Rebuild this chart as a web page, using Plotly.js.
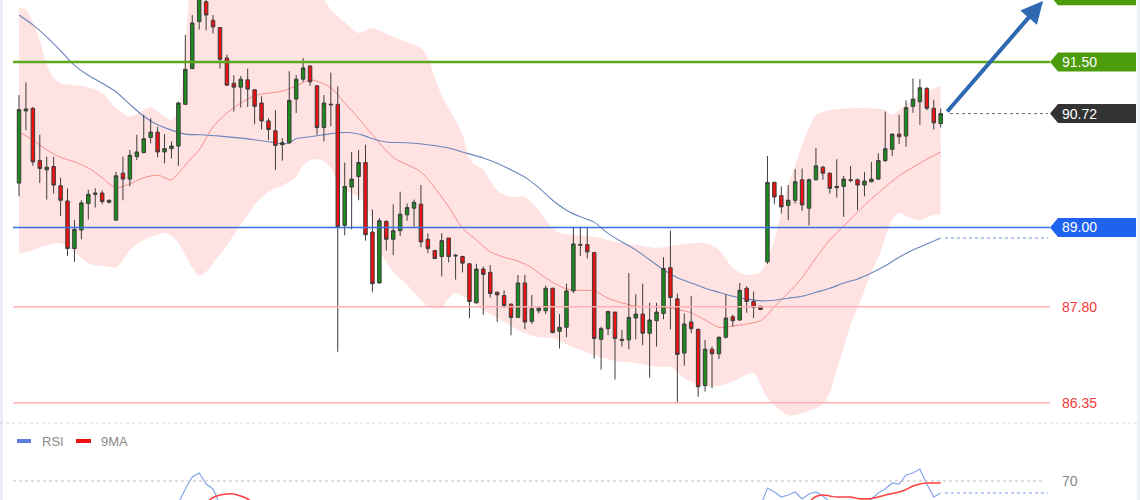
<!DOCTYPE html>
<html><head><meta charset="utf-8">
<script src="https://cdn.plot.ly/plotly-3.0.1.min.js"></script>
<style>html,body{margin:0;padding:0;background:#fff;}#chart{width:1140px;height:500px;}</style>
</head><body><div id="chart"></div>
<script>
// ---------- candle data ----------
const open = [89.67,90.76,90.80,90.01,89.87,89.92,89.63,89.40,88.68,88.96,89.36,89.50,89.52,89.38,89.11,89.82,89.73,90.07,90.13,90.36,90.44,90.14,90.19,90.23,90.86,91.40,92.11,92.41,92.13,92.02,91.56,91.18,91.12,91.23,91.08,90.88,90.61,90.46,90.25,90.28,90.94,91.24,91.44,91.14,90.51,90.85,90.86,89.03,89.61,89.77,89.98,88.93,88.16,89.09,88.82,88.95,89.19,89.29,89.35,88.82,88.65,88.56,88.84,88.58,88.56,88.45,87.86,88.37,88.32,88.02,87.97,87.84,87.64,88.16,87.58,87.74,87.74,88.08,87.43,87.49,88.04,88.73,88.74,88.62,87.31,87.47,87.72,87.31,87.30,87.63,87.69,87.40,87.59,87.70,88.39,87.92,87.10,87.57,87.46,86.61,87.16,87.09,87.34,87.65,87.60,88.08,87.88,87.81,88.48,89.68,89.48,89.33,89.41,89.72,89.29,89.72,89.91,89.82,89.62,89.62,89.72,89.72,89.64,89.69,89.73,90.01,90.18,90.41,90.38,90.83,90.90,91.10,90.80,90.57];
const high = [91.00,91.19,90.82,90.40,90.07,90.07,89.75,89.59,89.11,89.41,89.57,89.59,89.56,89.42,89.84,90.07,90.17,90.40,90.70,90.65,90.52,90.41,90.30,90.90,91.91,92.21,92.60,92.50,92.21,92.03,91.61,91.30,91.29,91.40,91.09,90.98,90.65,90.77,90.35,91.36,91.30,91.56,91.45,91.15,91.00,91.34,91.13,89.98,90.14,90.17,90.25,89.27,89.14,89.11,89.35,89.54,89.36,89.42,89.64,88.91,88.66,88.91,88.84,88.60,88.57,88.46,88.45,88.41,88.43,88.03,88.05,87.85,88.28,88.28,87.98,87.79,88.12,88.09,87.69,88.15,89.01,89.01,88.99,88.63,87.50,87.74,87.72,87.45,88.31,87.99,88.15,87.86,87.86,88.55,88.95,88.00,87.70,87.96,87.47,87.30,87.20,87.35,87.99,87.68,88.16,88.11,88.03,87.81,90.08,89.69,89.62,89.64,89.88,89.89,89.74,90.20,89.93,89.83,90.03,89.78,89.93,89.74,89.84,89.99,90.12,90.75,90.42,90.70,90.92,91.25,91.24,91.12,90.93,90.80];
const low = [89.47,90.47,89.93,89.67,89.42,89.51,89.17,88.57,88.48,88.82,89.12,89.30,89.35,89.36,89.10,89.41,89.62,90.02,90.12,90.27,90.06,89.97,90.04,89.93,90.85,91.39,91.99,91.98,91.93,91.40,91.14,90.75,90.81,90.82,90.56,90.48,90.32,89.87,90.01,90.26,90.73,91.20,91.14,90.40,90.30,90.53,87.12,88.88,88.97,89.41,88.80,88.02,88.15,88.65,88.58,88.87,89.10,89.01,88.70,88.61,88.52,88.26,88.47,88.21,88.32,87.63,87.85,87.68,87.94,87.57,87.78,87.37,87.63,87.46,87.54,87.70,87.69,87.40,87.17,87.34,88.01,88.57,88.53,87.02,86.85,87.37,86.70,87.20,87.16,87.31,87.22,86.73,87.20,87.61,87.46,86.34,86.91,87.40,86.44,86.52,86.57,87.01,87.32,87.50,87.59,87.71,87.63,87.75,88.45,89.35,89.21,89.11,89.36,89.25,89.03,89.71,89.72,89.51,89.45,89.16,89.68,89.26,89.47,89.68,89.72,89.99,90.08,90.26,90.22,90.73,90.55,90.77,90.48,90.51];
const close = [90.78,90.79,89.99,89.89,89.91,89.64,89.41,88.68,88.97,89.37,89.50,89.52,89.39,89.41,89.78,89.73,90.09,90.14,90.34,90.44,90.14,90.19,90.23,90.88,91.39,92.09,92.47,92.21,92.03,91.54,91.15,91.12,91.24,91.09,90.83,90.61,90.48,90.24,90.28,90.92,91.24,91.41,91.20,90.51,90.88,90.86,89.01,89.62,89.73,89.98,88.89,88.15,89.10,88.82,88.95,89.20,89.30,89.38,88.78,88.68,88.53,88.80,88.56,88.57,88.46,87.88,88.37,88.29,88.00,87.98,87.82,87.64,88.16,87.57,87.77,87.78,88.08,87.41,87.49,88.04,88.75,88.74,88.63,87.32,87.47,87.73,87.32,87.29,87.64,87.69,87.40,87.60,87.72,88.38,87.94,87.08,87.54,87.47,86.59,87.16,87.09,87.34,87.63,87.59,88.05,87.88,87.79,87.76,89.68,89.46,89.31,89.41,89.69,89.34,89.72,89.93,89.82,89.59,89.60,89.73,89.71,89.64,89.70,89.73,90.01,90.19,90.41,90.37,90.81,90.94,91.11,90.80,90.58,90.72];
const candleIdx = Array.from({length: open.length}, (_, k) => k + 1);

// ---------- Bollinger band (upper / lower) and moving averages ----------
const upperIdx = [1,2,3,4,5,6,7,9,11,13,15,17,19,20,22,23,24,25,26,28,32,36,40,43,45,46,48,50,52,55,58,59,60,61,62,63,64,65,66,67,68,70,72,74,76,78,79,81,84,88,91,93,95,98,100,102,104,106,108,109,110,111,112,113,114,115,116,118,121,124,126,127,128,130,132,134];
const upperVal = [92.32,92.29,92.10,91.83,91.45,91.26,91.18,91.15,91.12,91.03,90.80,90.68,90.77,90.82,90.67,90.62,90.77,91.75,92.75,93.2,93.4,93.3,93.0,92.7,92.44,92.29,92.10,91.94,92.01,91.88,91.76,91.71,91.56,91.26,91.00,90.80,90.62,90.40,90.05,89.93,89.87,89.56,89.46,89.46,89.26,88.99,88.92,88.89,88.86,88.76,88.72,88.69,88.72,88.76,88.76,88.66,88.39,88.28,88.33,88.51,88.81,89.23,89.64,89.94,90.25,90.50,90.70,90.77,90.80,90.80,90.77,90.70,90.77,90.93,91.05,91.14];
const lowerIdx = [1,3,5,7,9,11,13,15,16,17,19,21,22,23,24,25,26,27,28,29,31,33,35,37,39,41,42,43,44,45,46,47,48,50,51,52,53,54,55,57,59,60,62,63,64,66,68,70,72,74,76,78,81,84,87,90,93,95,97,99,101,103,105,107,108,109,110,112,114,116,117,118,119,120,121,122,123,124,125,126,127,128,129,131,133,134];
const lowerVal = [88.60,88.66,88.73,88.76,88.63,88.46,88.42,88.40,88.51,88.66,88.81,88.89,88.92,88.87,88.76,88.58,88.39,88.27,88.33,88.46,88.73,89.04,89.34,89.54,89.63,89.76,89.94,90.02,90.03,90.00,89.90,89.67,89.56,89.46,89.34,89.11,88.66,88.48,88.33,88.13,87.90,87.80,87.78,87.93,88.01,87.90,87.75,87.63,87.51,87.40,87.34,87.33,87.19,87.07,86.98,86.95,86.89,86.89,86.72,86.62,86.59,86.63,86.72,86.80,86.62,86.42,86.31,86.16,86.19,86.27,86.33,86.50,86.84,87.18,87.53,87.78,88.05,88.33,88.54,88.84,89.11,89.22,89.17,89.11,89.19,89.20];
const ma20Idx = [1,3,5,7,9,11,13,15,17,19,21,23,24,25,26,27,29,31,33,35,37,39,41,43,44,46,48,50,52,55,58,59,61,63,65,67,69,71,73,75,76,78,80,82,84,86,88,90,93,95,98,100,102,104,106,108,109,110,112,114,116,118,120,122,124,126,128,130,132,134];
const ma20Val = [90.44,90.32,90.17,90.06,89.99,89.90,89.75,89.60,89.66,89.75,89.79,89.72,89.82,89.94,90.06,90.17,90.52,90.73,90.88,90.99,91.03,91.06,91.14,91.23,91.21,91.11,90.88,90.65,90.40,90.06,89.90,89.84,89.60,89.31,88.99,88.81,88.63,88.55,88.49,88.39,88.31,88.17,88.07,88.05,88.04,87.93,87.86,87.81,87.80,87.78,87.71,87.60,87.49,87.51,87.54,87.59,87.68,87.80,88.01,88.24,88.54,88.81,89.02,89.23,89.43,89.61,89.78,89.91,90.03,90.14];
const ma100Idx = [1,3,5,7,9,11,13,15,17,19,21,23,25,27,30,33,36,38,39,40,41,43,45,47,49,51,52,54,57,60,63,65,68,70,72,74,76,78,80,82,84,86,88,90,92,94,96,98,100,102,104,106,108,110,112,114,116,118,120,122,124,126,128,130,132,134];
const ma100Val = [92.21,92.06,91.88,91.67,91.45,91.30,91.18,91.05,90.86,90.68,90.55,90.47,90.41,90.40,90.38,90.35,90.31,90.28,90.26,90.28,90.34,90.37,90.40,90.43,90.43,90.38,90.34,90.29,90.28,90.25,90.20,90.14,90.05,89.97,89.87,89.76,89.60,89.41,89.26,89.16,89.08,88.91,88.78,88.66,88.51,88.36,88.24,88.16,88.08,88.02,87.96,87.92,87.89,87.90,87.93,87.96,88.02,88.08,88.16,88.22,88.31,88.42,88.55,88.66,88.75,88.84];

// ---------- RSI panel (only the visible stretches) ----------
const rsiIdx = [24,25,26,27,28,29,30,null,108,109,110,111,112,113,114,115,116,117,118,119,120,121,122,123,124,125,126,127,128,129,130,131,132,133,134];
const rsiVal = [48,62,74,78,67,62,46,null,45,63,59,54,56,59,52,57,59,55,49,47,49,48,46,48,52,58,62,68,67,76,78,82,67,54,58];
const rsiMaIdx = [28,29,30,31,32,33,34,35,null,115,116,117,118,119,120,121,122,123,124,125,126,127,128,129,130,131,132,133,134];
const rsiMaVal = [48,53.5,56,57,57,55,52,47,null,49,54.5,56,55,54,54,54,52.5,52,52.5,54,56,57.5,59,61.5,65,67,68,68,68];
const rsiLevel = 70;

// ---------- levels and labels ----------
const resistance = 91.50, support = 89.00, support2 = 87.80, support3 = 86.35;
const lastPrice = 90.72, target = 92.50;
const levelLabels = ['91.50','90.72','89.00','87.80','86.35'];

// ---------- geometry helpers (styling only) ----------
const W = 1140, H = 500;
const px = x => x / W;
const py = y => 1 - y / H;
const priceRange = [86.089, 92.437];
const PPU = 420 / (priceRange[1] - priceRange[0]); // pixels per price unit
const font = 'Liberation Sans, Arial, sans-serif';

function tag(yc, color) {
  const d = 9.5 / PPU;
  return {type:'path', xref:'paper', yref:'y', fillcolor:color, line:{width:0}, layer:'above',
    path:`M ${px(1050)},${yc} L ${px(1058)},${yc+d} L ${px(1136)},${yc+d} L ${px(1136)},${yc-d} L ${px(1058)},${yc-d} Z`};
}
function hline(y, color, width, dash, x0, x1, yref) {
  return {type:'line', xref:'paper', yref:yref||'y', x0:px(x0), x1:px(x1), y0:y, y1:y,
    line:{color:color, width:width, dash:dash||'solid'}, layer:'above'};
}

const traces = [
  {type:'scatter', x:upperIdx, y:upperVal, mode:'lines', line:{width:0, shape:'spline', smoothing:0.8}, hoverinfo:'skip', xaxis:'x', yaxis:'y'},
  {type:'scatter', x:lowerIdx, y:lowerVal, mode:'lines', line:{width:0, shape:'spline', smoothing:0.8}, fill:'tonexty', fillcolor:'rgba(255,160,160,0.30)', hoverinfo:'skip', xaxis:'x', yaxis:'y'},
  {type:'scatter', x:ma20Idx, y:ma20Val, mode:'lines', line:{color:'#f4908c', width:1, shape:'spline', smoothing:0.8}, hoverinfo:'skip', xaxis:'x', yaxis:'y'},
  {type:'scatter', x:ma100Idx, y:ma100Val, mode:'lines', line:{color:'#6a86bb', width:1.1, shape:'spline', smoothing:0.8}, hoverinfo:'skip', xaxis:'x', yaxis:'y'},
  {type:'candlestick', x:candleIdx, open:open, high:high, low:low, close:close,
    increasing:{line:{color:'#3d3d3d', width:1}, fillcolor:'#1c8a1c'},
    decreasing:{line:{color:'#3d3d3d', width:1}, fillcolor:'#f01010'},
    whiskerwidth:0, hoverinfo:'skip', xaxis:'x', yaxis:'y3'},
  {type:'scatter', x:rsiIdx, y:rsiVal, mode:'lines', connectgaps:false, line:{color:'#86a6ec', width:1.2}, hoverinfo:'skip', xaxis:'x2', yaxis:'y2'},
  {type:'scatter', x:rsiMaIdx, y:rsiMaVal, mode:'lines', connectgaps:false, line:{color:'#ff4040', width:1.5, shape:'spline'}, hoverinfo:'skip', xaxis:'x2', yaxis:'y2'}
];

const xr = [-1.742, 162.76];
const shapes = [
  {type:'rect', xref:'paper', yref:'paper', x0:0, x1:px(3), y0:0, y1:1, fillcolor:'#e8eef3', line:{width:0}, layer:'below'},
  {type:'rect', xref:'paper', yref:'paper', x0:px(1137), x1:1, y0:0, y1:1, fillcolor:'#eef2f5', line:{width:0}, layer:'below'},
  {type:'line', xref:'paper', yref:'paper', x0:0, x1:1, y0:py(423), y1:py(423), line:{color:'#d6d6d6', width:1, dash:'dot'}},
  hline(resistance, '#5ca81e', 2.5, 'solid', 13, 1050),
  hline(support, '#3b6fe0', 1.5, 'solid', 13, 1050),
  hline(support2, '#ffb0b0', 1.5, 'solid', 13, 1050),
  hline(support3, '#ffb0b0', 1.5, 'solid', 13, 1050),
  hline(lastPrice, '#666666', 1, 'dot', 950, 1048),
  hline(ma100Val[ma100Val.length-1], '#7090e0', 1, 'dot', 945, 1048),
  hline(rsiLevel, '#bdbdbd', 1, 'dot', 13, 1045, 'y2'),
  hline(rsiVal[rsiVal.length-1], '#7a9be8', 1, 'dot', 945, 1048, 'y2'),
  tag(target, '#4c9c0c'),
  tag(resistance, '#4c9c0c'),
  tag(lastPrice, '#333333'),
  tag(support, '#1f62f0'),
  {type:'rect', xref:'paper', yref:'paper', x0:px(17), x1:px(31), y0:py(443), y1:py(439), fillcolor:'#5b80e0', line:{width:0}},
  {type:'rect', xref:'paper', yref:'paper', x0:px(76), x1:px(91), y0:py(443), y1:py(439), fillcolor:'#ee1111', line:{width:0}}
];

function label(text, y, color, yref) {
  return {text:text, xref:'paper', yref:yref||'y', x:px(1060), y:y, xanchor:'left', yanchor:'middle',
    showarrow:false, font:{family:font, size:14, color:color}};
}
const annotations = [
  label(levelLabels[0], resistance, '#ffffff'),
  label(levelLabels[1], lastPrice, '#ffffff'),
  label(levelLabels[2], support, '#ffffff'),
  label(levelLabels[3], support2, '#f23a3a'),
  label(levelLabels[4], support3, '#f23a3a'),
  label(String(rsiLevel), rsiLevel, '#888888', 'y2'),
  {text:'RSI', xref:'paper', yref:'paper', x:px(40), y:py(441), xanchor:'left', yanchor:'middle', showarrow:false, font:{family:font, size:13, color:'#8a8a8a'}},
  {text:'9MA', xref:'paper', yref:'paper', x:px(99), y:py(441), xanchor:'left', yanchor:'middle', showarrow:false, font:{family:font, size:13, color:'#8a8a8a'}},
  {text:'', xref:'paper', yref:'paper', x:px(1043), y:py(-4), showarrow:true, axref:'pixel', ayref:'pixel', ax:-97, ay:117,
    arrowhead:2, arrowsize:1.1, arrowwidth:4, arrowcolor:'#2e68b0', standoff:0, startstandoff:0}
];

const layout = {
  width:W, height:H, margin:{l:0, r:0, t:0, b:0}, paper_bgcolor:'#ffffff', plot_bgcolor:'rgba(0,0,0,0)',
  showlegend:false, boxgap:0.28, dragmode:false, hovermode:false,
  xaxis:{range:xr, visible:false, fixedrange:true, rangeslider:{visible:false}, anchor:'y'},
  yaxis:{domain:[0.16, 1], range:priceRange, visible:false, fixedrange:true, anchor:'x'},
  yaxis3:{overlaying:'y', range:priceRange, visible:false, fixedrange:true, anchor:'x'},
  xaxis2:{range:xr, visible:false, fixedrange:true, anchor:'y2'},
  yaxis2:{domain:[0, 0.154], range:[51, 128], visible:false, fixedrange:true, anchor:'x2'},
  shapes:shapes, annotations:annotations
};
Plotly.newPlot('chart', traces, layout, {displayModeBar:false, staticPlot:true});
</script>
</body></html>
